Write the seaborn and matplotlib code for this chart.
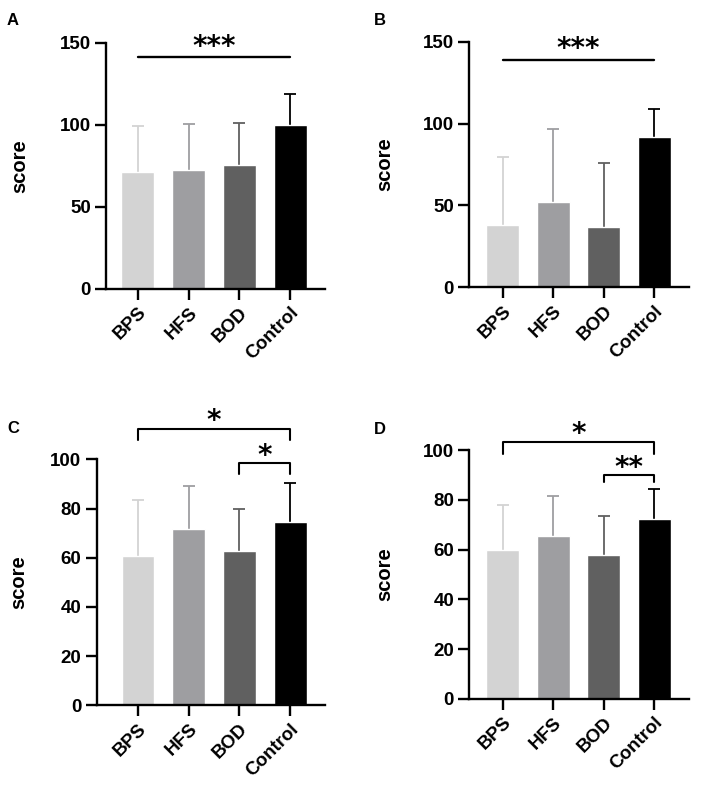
import matplotlib
matplotlib.use("Agg")
import matplotlib.pyplot as plt
import seaborn as sns
import pandas as pd
import numpy as np

# ---- data ----
categories = ["BPS", "HFS", "BOD", "Control"]
bar_colors = ["#d3d3d3", "#9e9ea1", "#606060", "#000000"]

mean_a = [70.9, 72.6, 75.4, 99.8]
sd_a = [28.5, 28.0, 25.6, 18.7]
mean_b = [37.9, 52.3, 36.8, 91.6]
sd_b = [41.5, 44.4, 39.3, 17.1]
mean_c = [60.6, 71.8, 62.7, 74.5]
sd_c = [22.7, 17.3, 17.2, 15.9]
mean_d = [60.0, 65.4, 57.9, 72.2]
sd_d = [17.9, 16.1, 15.8, 12.1]

yticks_ab = [0, 50, 100, 150]
yticks_cd = [0, 20, 40, 60, 80, 100]

# significance marks: (from, to, line y, leg drop, label, label y)
sig_a = [(0, 3, 140.9, 0.0, "***", 147.5)]
sig_b = [(0, 3, 138.8, 0.0, "***", 145.5)]
sig_c = [(0, 3, 112.2, 4.5, "*", 115.5), (2, 3, 98.6, 4.5, "*", 101.5)]
sig_d = [(0, 3, 103.4, 4.8, "*", 106.5), (2, 3, 90.2, 3.0, "**", 93.0)]

sns.set_theme(style="ticks")
plt.rcParams['font.family'] = ['Liberation Sans', 'DejaVu Sans']
plt.rcParams['font.weight'] = 'bold'
plt.rcParams['text.color'] = 'black'
plt.rcParams['axes.labelcolor'] = 'black'
plt.rcParams['xtick.color'] = 'black'
plt.rcParams['ytick.color'] = 'black'

fig = plt.figure(figsize=(7.02, 7.94), dpi=100)

panels = [
    ("A", mean_a, sd_a, yticks_ab, sig_a, [0.151, 0.6364, 0.312, 0.310], (-0.63, 3.69), -0.35),
    ("B", mean_b, sd_b, yticks_ab, sig_b, [0.6685, 0.6382, 0.3125, 0.3093], (-0.66, 3.68), -0.34),
    ("C", mean_c, sd_c, yticks_cd, sig_c, [0.1377, 0.1117, 0.3253, 0.3098], (-0.815, 3.69), -0.30),
    ("D", mean_d, sd_d, yticks_cd, sig_d, [0.6685, 0.1200, 0.3125, 0.3129], (-0.66, 3.68), -0.34),
]
label_pos = {"A": (0.010, 0.984), "B": (0.533, 0.984), "C": (0.010, 0.470), "D": (0.533, 0.468)}

for name, means, sds, yticks, sigs, rect, xlim, ylab_x in panels:
    ax = fig.add_axes(rect)
    df = pd.DataFrame({"group": categories, "score": means, "sd": sds})
    sns.barplot(data=df, x="group", y="score", hue="group", palette=bar_colors,
                legend=False, width=0.65, errorbar=None, ax=ax)
    for p in ax.patches:
        p.set_zorder(2)
    pos = np.arange(len(categories))
    for i in range(len(categories)):
        # upper-only error bar, drawn behind the bar; hide the cap at the bar top
        eb = ax.errorbar(pos[i], df["score"][i], yerr=[[0], [df["sd"][i]]], color=bar_colors[i],
                         capsize=4.3, elinewidth=1.3, capthick=1.3, zorder=1.5)
        eb[1][0].set_visible(False)

    ax.set_xlim(*xlim)
    ax.set_ylim(yticks[0], yticks[-1])
    ax.set_yticks(yticks)
    ax.set_xlabel("")
    ax.set_ylabel("score", fontsize=14.5, fontweight="bold")
    ax.yaxis.set_label_coords(ylab_x, 0.5)
    ax.tick_params(axis="both", length=8, width=1.7, labelsize=13.5, color="black", pad=3)
    ax.set_xticks(pos)
    ax.set_xticklabels(categories, rotation=45, ha="right", rotation_mode="anchor", fontweight="bold")
    for lab in ax.get_yticklabels():
        lab.set_fontweight("bold")
    sns.despine(ax=ax)
    for sp in ["left", "bottom"]:
        ax.spines[sp].set_linewidth(1.7)
        ax.spines[sp].set_color("black")
        ax.spines[sp].set_zorder(3)

    for x0, x1, yl, drop, txt, ty in sigs:
        if drop > 0:
            ax.plot([x0, x0, x1, x1], [yl - drop, yl, yl, yl - drop], color="black", lw=1.5, clip_on=False)
        else:
            ax.plot([x0, x1], [yl, yl], color="black", lw=1.7, clip_on=False)
        ax.text((x0 + x1) / 2, ty, txt, ha="center", va="center", fontsize=20,
                fontweight="bold", family="DejaVu Sans", color="black", clip_on=False)

    lx, ly = label_pos[name]
    fig.text(lx, ly, name, fontsize=12, fontweight="bold", ha="left", va="top")

fig.savefig("out.png", dpi=100)
